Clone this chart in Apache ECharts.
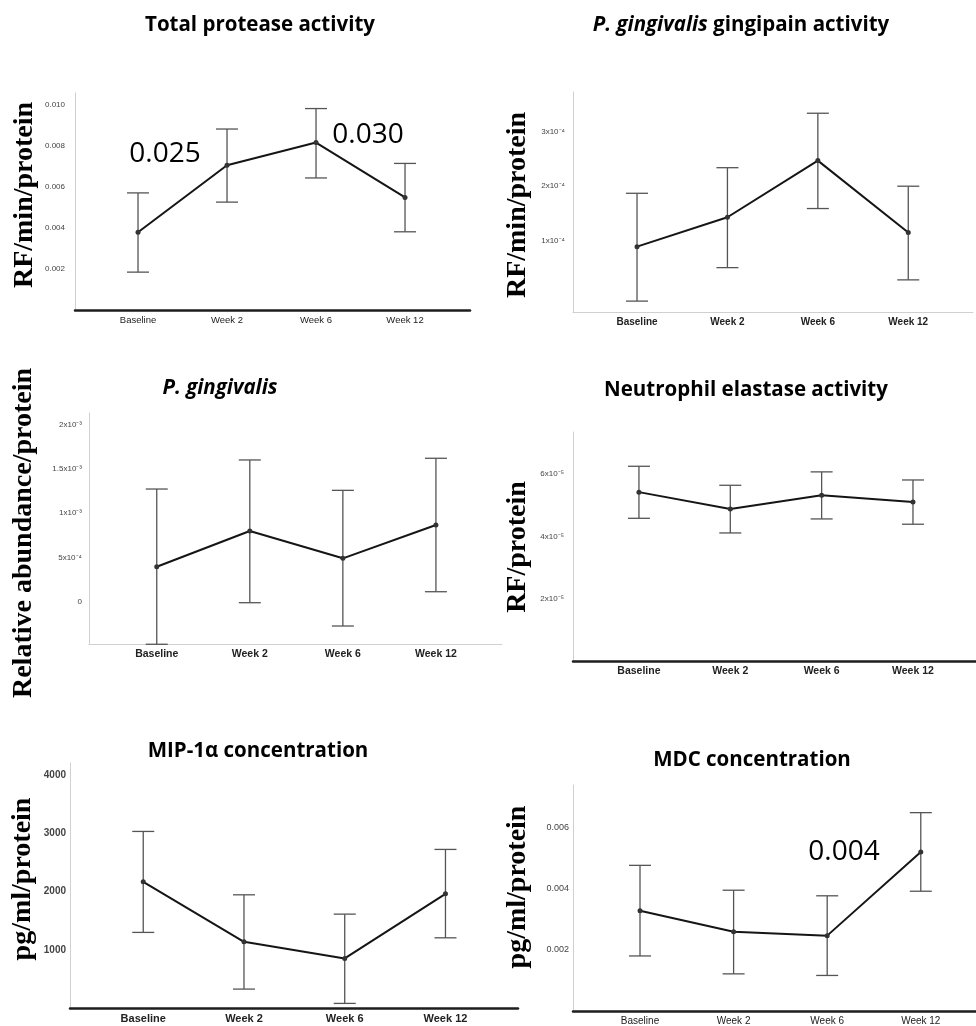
<!DOCTYPE html>
<html>
<head>
<meta charset="utf-8">
<script src="https://cdn.jsdelivr.net/npm/echarts@6/dist/echarts.min.js"></script>
<style>
    html, body { margin: 0; padding: 0; background: #fff; }
    #chart { width: 976px; height: 1026px; }
</style>
</head>
<body>
<div id="chart"></div>
<script>
// time points
var categories = ['Baseline', 'Week 2', 'Week 6', 'Week 12'];

// Total protease activity
var proteaseMean = [0.0038, 0.00707, 0.00818, 0.0055];
var proteaseLow = [0.00185, 0.00527, 0.00645, 0.00382];
var proteaseHigh = [0.00572, 0.00884, 0.00984, 0.00716];
var proteaseTicks = [0.002, 0.004, 0.006, 0.008, 0.010];
var proteaseTickLabels = ['0.002', '0.004', '0.006', '0.008', '0.010'];

// P. gingivalis gingipain activity
var gingipainMean = [0.89e-4, 1.43e-4, 2.47e-4, 1.15e-4];
var gingipainLow = [-0.11e-4, 0.505e-4, 1.59e-4, 0.28e-4];
var gingipainHigh = [1.87e-4, 2.34e-4, 3.34e-4, 2.0e-4];
var gingipainTicks = [1e-4, 2e-4, 3e-4];
var gingipainTickLabels = ['1x10⁻⁴', '2x10⁻⁴', '3x10⁻⁴'];

// P. gingivalis relative abundance
var abundanceMean = [3.95e-4, 7.98e-4, 4.9e-4, 8.66e-4];
var abundanceLow = [-4.8e-4, -0.11e-4, -2.74e-4, 1.13e-4];
var abundanceHigh = [12.72e-4, 16.0e-4, 12.57e-4, 16.19e-4];
var abundanceTicks = [0, 5e-4, 1e-3, 1.5e-3, 2e-3];
var abundanceTickLabels = ['0', '5x10⁻⁴', '1x10⁻³', '1.5x10⁻³', '2x10⁻³'];

// Neutrophil elastase activity
var elastaseMean = [5.42e-5, 4.88e-5, 5.32e-5, 5.10e-5];
var elastaseLow = [4.58e-5, 4.11e-5, 4.56e-5, 4.39e-5];
var elastaseHigh = [6.25e-5, 5.64e-5, 6.07e-5, 5.81e-5];
var elastaseTicks = [2e-5, 4e-5, 6e-5];
var elastaseTickLabels = ['2x10⁻⁵', '4x10⁻⁵', '6x10⁻⁵'];

// MIP-1α concentration
var mipMean = [2168, 1137, 852, 1962];
var mipLow = [1299, 325, 79, 1206];
var mipHigh = [3034, 1945, 1613, 2725];
var mipTicks = [1000, 2000, 3000, 4000];
var mipTickLabels = ['1000', '2000', '3000', '4000'];

// MDC concentration
var mdcMean = [0.003285, 0.0026, 0.00247, 0.00521];
var mdcLow = [0.001804, 0.001217, 0.001165, 0.003925];
var mdcHigh = [0.004773, 0.003958, 0.003775, 0.0065];
var mdcTicks = [0.002, 0.004, 0.006];
var mdcTickLabels = ['0.002', '0.004', '0.006'];

var DARK_AXIS = { color: '#1e1e1e', width: 2.5 };
var LIGHT_AXIS = { color: '#d0d0d0', width: 1 };

// one entry per panel: data + layout
var panels = [
    {
        mean: proteaseMean, low: proteaseLow, high: proteaseHigh,
        ticks: proteaseTicks, tickLabels: proteaseTickLabels,
        grid: { left: 75, top: 93, width: 395, height: 217 },
        xMin: -0.708, xMax: 3.73, yMin: 0, yMax: 0.0106,
        xAxisLine: DARK_AXIS, xFont: { size: 9.5, weight: 'normal' }, xMargin: 5,
        yFont: { size: 8, weight: 'normal' }, yMargin: 10
    },
    {
        mean: gingipainMean, low: gingipainLow, high: gingipainHigh,
        ticks: gingipainTicks, tickLabels: gingipainTickLabels,
        grid: { left: 573, top: 92, width: 400, height: 220 },
        xMin: -0.708, xMax: 3.716, yMin: -0.31e-4, yMax: 3.73e-4,
        xAxisLine: LIGHT_AXIS, xFont: { size: 10, weight: 'bold' }, xMargin: 5,
        yFont: { size: 8, weight: 'normal' }, yMargin: 8
    },
    {
        mean: abundanceMean, low: abundanceLow, high: abundanceHigh,
        ticks: abundanceTicks, tickLabels: abundanceTickLabels,
        grid: { left: 89, top: 413, width: 413, height: 231 },
        xMin: -0.728, xMax: 3.71, yMin: -4.77e-4, yMax: 21.3e-4,
        xAxisLine: LIGHT_AXIS, xFont: { size: 10.5, weight: 'bold' }, xMargin: 5,
        yFont: { size: 8, weight: 'normal' }, yMargin: 7
    },
    {
        mean: elastaseMean, low: elastaseLow, high: elastaseHigh,
        ticks: elastaseTicks, tickLabels: elastaseTickLabels,
        grid: { left: 573, top: 432, width: 403, height: 229 },
        xMin: -0.722, xMax: 3.69, yMin: 0, yMax: 7.35e-5,
        xAxisLine: DARK_AXIS, xFont: { size: 10.5, weight: 'bold' }, xMargin: 5,
        yFont: { size: 8, weight: 'normal' }, yMargin: 9
    },
    {
        mean: mipMean, low: mipLow, high: mipHigh,
        ticks: mipTicks, tickLabels: mipTickLabels,
        grid: { left: 70, top: 763, width: 448, height: 245 },
        xMin: -0.727, xMax: 3.72, yMin: 0, yMax: 4210,
        xAxisLine: DARK_AXIS, xFont: { size: 11, weight: 'bold' }, xMargin: 5,
        yFont: { size: 10, weight: 'bold' }, yMargin: 4
    },
    {
        mean: mdcMean, low: mdcLow, high: mdcHigh,
        ticks: mdcTicks, tickLabels: mdcTickLabels,
        grid: { left: 573, top: 785, width: 403, height: 227 },
        xMin: -0.716, xMax: 3.59, yMin: 0, yMax: 0.007406,
        xAxisLine: DARK_AXIS, xFont: { size: 10, weight: 'normal' }, xMargin: 5,
        yFont: { size: 9, weight: 'normal' }, yMargin: 4
    }
];

// y axis names (rotated)
var yNames = [
    { text: 'RF/min/protein', x: 25, y: 195 },
    { text: 'RF/min/protein', x: 518, y: 205 },
    { text: 'Relative abundance/protein', x: 24, y: 533 },
    { text: 'RF/protein', x: 518, y: 547 },
    { text: 'pg/ml/protein', x: 23, y: 879 },
    { text: 'pg/ml/protein', x: 518, y: 887 }
];

// panel titles
var titles = [
    { text: 'Total protease activity', x: 260, y: 25 },
    { text: '{i|P. gingivalis} gingipain activity', x: 741, y: 25 },
    { text: '{i|P. gingivalis}', x: 220, y: 388 },
    { text: 'Neutrophil elastase activity', x: 746, y: 390 },
    { text: 'MIP-1α concentration', x: 258, y: 751 },
    { text: 'MDC concentration', x: 752, y: 760 }
];

// p-value annotations
var notes = [
    { text: '0.025', x: 165, y: 154 },
    { text: '0.030', x: 368, y: 135 },
    { text: '0.004', x: 844, y: 852 }
];

function renderErrorBar(params, api) {
    var x = api.value(0);
    var top = api.coord([x, api.value(2)]);
    var bot = api.coord([x, api.value(1)]);
    var hw = 11;
    var style = { stroke: '#555', lineWidth: 1.3 };
    return {
        type: 'group',
        children: [
            { type: 'line', shape: { x1: top[0], y1: top[1], x2: bot[0], y2: bot[1] }, style: style },
            { type: 'line', shape: { x1: top[0] - hw, y1: top[1], x2: top[0] + hw, y2: top[1] }, style: style },
            { type: 'line', shape: { x1: bot[0] - hw, y1: bot[1], x2: bot[0] + hw, y2: bot[1] }, style: style }
        ]
    };
}

function labelFor(p, v) {
    for (var k = 0; k < p.ticks.length; k++) {
        if (Math.abs(p.ticks[k] - v) < Math.abs(p.ticks[1] - p.ticks[0]) * 0.01) return p.tickLabels[k];
    }
    return '';
}

var grids = [], xAxes = [], yAxes = [], series = [];

panels.forEach(function (p, i) {
    grids.push(p.grid);

    xAxes.push({
        gridIndex: i,
        type: 'value',
        min: p.xMin,
        max: p.xMax,
        axisLine: { show: true, onZero: false, lineStyle: p.xAxisLine },
        axisTick: { show: false },
        splitLine: { show: false },
        axisLabel: {
            customValues: [0, 1, 2, 3],
            formatter: function (v) { return categories[Math.round(v)]; },
            fontFamily: 'Liberation Sans',
            fontSize: p.xFont.size,
            fontWeight: p.xFont.weight,
            color: '#222',
            margin: p.xMargin
        }
    });

    yAxes.push({
        gridIndex: i,
        type: 'value',
        min: p.yMin,
        max: p.yMax,
        axisLine: { show: true, onZero: false, lineStyle: { color: '#d0d0d0', width: 1 } },
        axisTick: { show: false },
        splitLine: { show: false },
        axisLabel: {
            customValues: p.ticks,
            formatter: function (v) { return labelFor(p, v); },
            fontFamily: 'Liberation Sans',
            fontSize: p.yFont.size,
            fontWeight: p.yFont.weight,
            color: '#444',
            margin: p.yMargin
        }
    });

    series.push({
        type: 'custom',
        xAxisIndex: i,
        yAxisIndex: i,
        renderItem: renderErrorBar,
        data: p.low.map(function (l, k) { return [k, l, p.high[k]]; }),
        z: 2,
        silent: true
    });

    series.push({
        type: 'line',
        xAxisIndex: i,
        yAxisIndex: i,
        data: p.mean.map(function (m, k) { return [k, m]; }),
        symbol: 'circle',
        symbolSize: 5,
        lineStyle: { color: '#151515', width: 2 },
        itemStyle: { color: '#333' },
        z: 3,
        silent: true
    });
});

var graphics = [];

yNames.forEach(function (n) {
    graphics.push({
        type: 'text',
        x: n.x,
        y: n.y,
        rotation: Math.PI / 2,
        style: {
            text: n.text,
            font: 'bold 28px "Liberation Serif"',
            fill: '#000',
            align: 'center',
            verticalAlign: 'middle',
            textAlign: 'center',
            textVerticalAlign: 'middle'
        }
    });
});

titles.forEach(function (t) {
    graphics.push({
        type: 'text',
        x: t.x,
        y: t.y,
        style: {
            text: t.text,
            font: 'bold 20.5px "Open Sans"',
            fill: '#000',
            align: 'center',
            verticalAlign: 'middle',
            textAlign: 'center',
            textVerticalAlign: 'middle',
            rich: {
                i: { fontFamily: 'Open Sans', fontSize: 20.5, fontWeight: 'bold', fontStyle: 'italic', fill: '#000' }
            }
        }
    });
});

notes.forEach(function (n) {
    graphics.push({
        type: 'text',
        x: n.x,
        y: n.y,
        style: {
            text: n.text,
            font: '28px "Open Sans"',
            fill: '#000',
            align: 'center',
            verticalAlign: 'middle',
            textAlign: 'center',
            textVerticalAlign: 'middle'
        }
    });
});

var myChart = echarts.init(document.getElementById('chart'));

var option = {
    animation: false,
    backgroundColor: '#fff',
    tooltip: { show: false },
    grid: grids,
    xAxis: xAxes,
    yAxis: yAxes,
    series: series,
    graphic: { elements: graphics }
};

myChart.setOption(option);
</script>
</body>
</html>
